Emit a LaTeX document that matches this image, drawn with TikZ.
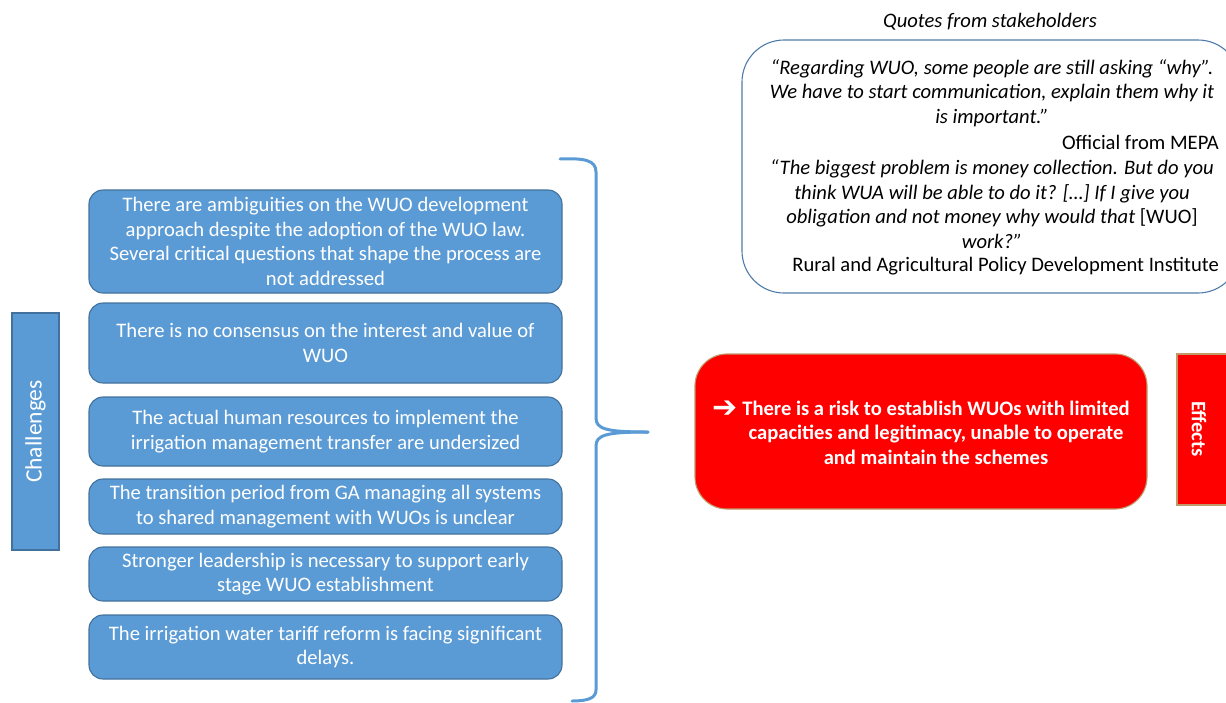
\documentclass[tikz,border=0pt]{standalone}
\usepackage{fontspec}
\setmainfont{Carlito}
\newfontfamily\arrowfont{DejaVu Sans}

\definecolor{boxblue}{HTML}{5B9BD5}
\definecolor{boxedge}{HTML}{41719C}
\definecolor{quoteedge}{HTML}{4F7BA8}
\definecolor{riskred}{HTML}{FF0000}
\definecolor{riskedge}{HTML}{C09A6B}

\tikzset{
  txt/.style={font=\fontsize{20.6}{24.5}\selectfont, inner sep=0pt, align=center},
  challenge/.style={txt, draw=boxedge, fill=boxblue, line width=1.1pt,
    rounded corners=14pt, minimum width=473pt, text=white},
  sidebar/.style={draw=boxedge, fill=boxblue, line width=1.1pt,
    minimum width=47pt, minimum height=237pt, inner sep=0pt},
  effectbar/.style={draw=riskedge, fill=riskred, line width=1.1pt,
    minimum width=63pt, minimum height=151pt, inner sep=0pt},
  quote/.style={txt, font=\itshape\fontsize{20.6}{24.6}\selectfont},
  source/.style={txt, anchor=east},
  brace/.style={draw=boxblue, line width=3pt, line cap=round, line join=round},
}

\begin{document}
\begin{tikzpicture}[x=1pt, y=-1pt]
  \useasboundingbox (0,0) rectangle (1226,702);
  \clip (0,0) rectangle (1226,702);

  % left label bar
  \node[sidebar] (chbar) at (35.5,431.5) {};
  \node[txt, text=white, rotate=90, font=\fontsize{23.5}{27}\selectfont] (chlabel) at (chbar.center) {Challenges};

  % list of challenges
  \node[challenge, minimum height=103pt] (c1) at (325.5,241.5)
    {There are ambiguities on the WUO development\\approach despite the adoption of the WUO law.\\Several critical questions that shape the process are\\not addressed};
  \node[challenge, minimum height=80pt] (c2) at (325.5,343)
    {There is no consensus on the interest and value of\\WUO};
  \node[challenge, minimum height=69pt] (c3) at (325.5,431.5)
    {The actual human resources to implement the\\irrigation management transfer are undersized};
  \node[challenge, minimum height=55pt] (c4) at (325.5,506.5)
    {The transition period from GA managing all systems\\to shared management with WUOs is unclear};
  \node[challenge, minimum height=54pt] (c5) at (325.5,574)
    {Stronger leadership is necessary to support early\\stage WUO establishment};
  \node[challenge, minimum height=64pt] (c6) at (325.5,647)
    {The irrigation water tariff reform is facing significant\\delays.};

  % curly brace grouping the challenges
  \coordinate (btop) at (560,159);
  \coordinate (bmid) at (648,432);
  \coordinate (bbot) at (572,701);
  \draw[brace] (btop) .. controls (584,158) and (596,160) .. (596,172)
    -- (596,418) .. controls (596,429) and (606,432) .. (bmid);
  \draw[brace] (bmid) .. controls (606,432) and (596,435) .. (596,446)
    -- (596,690) .. controls (596,698) and (588,701) .. (bbot);

  % quotes
  \node[txt, font=\itshape\fontsize{20.6}{24.5}\selectfont] (qtitle) at (990,22) {Quotes from stakeholders};
  \draw[draw=quoteedge, line width=1.1pt, rounded corners=42pt]
    (742,40) rectangle (1240,293);
  \node[quote] (q1) at (992,93)
    {“Regarding WUO, some people are still asking “why”.\\We have to start communication, explain them why it\\is important.”};
  \node[source] (s1) at (1219,142) {Official from MEPA};
  \node[quote] (q2) at (992,204)
    {“The biggest problem is money collection. But do you\\think WUA will be able to do it? […] If I give you\\obligation and not money why would that {\upshape[WUO]}\\work?”};
  \node[source] (s2) at (1219,266) {Rural and Agricultural Policy Development Institute};

  % effect
  \node[draw=riskedge, fill=riskred, line width=1.1pt, rounded corners=32pt,
    minimum width=452pt, minimum height=155pt, inner sep=0pt] (risk) at (921,431.5) {};
  \node[txt, text=white, font=\bfseries\fontsize{20.6}{24.6}\selectfont] (risktext) at (936,432.5)
    {\llap{\raisebox{-2.5pt}{\arrowfont\bfseries\fontsize{30}{30}\selectfont ➔}\hspace{5pt}}There is a risk to establish WUOs with limited\\capacities and legitimacy, unable to operate\\and maintain the schemes};
  \node[effectbar] (effbar) at (1208.5,429.5) {};
  \node[txt, text=white, rotate=-90, font=\bfseries\fontsize{20.6}{24}\selectfont] (efflabel) at (1199,429) {Effects};
\end{tikzpicture}
\end{document}
